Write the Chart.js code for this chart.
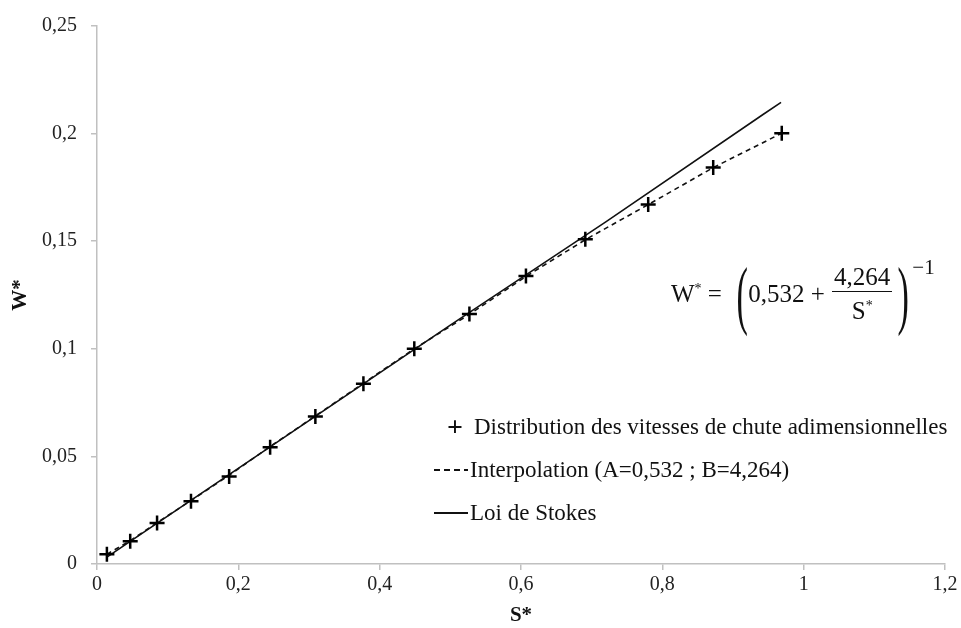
<!DOCTYPE html>
<html>
<head>
<meta charset="utf-8">
<script src="https://cdn.jsdelivr.net/npm/chart.js@4/dist/chart.umd.min.js"></script>
<style>
  body { margin: 0; background: #fff; }
  #wrap { position: relative; width: 961px; height: 628px; font-family: "Liberation Serif", serif; color: #111; }
  #legend { position: absolute; left: 432px; top: 405px; font-size: 23px; }
  #legend .row { display: flex; align-items: center; height: 43px; }
  #legend .sym { width: 38px; display: flex; justify-content: center; align-items: center; }
  .eq { position: absolute; left: 671px; top: 259px; height: 70px; font-size: 25px; display: flex; align-items: center; }
  .frac { display: inline-flex; flex-direction: column; align-items: center; margin: 0 1px; }
  .frac .num { border-bottom: 1.5px solid #111; padding: 0 2px; line-height: 28px; }
  .frac .den { line-height: 28px; }
  .paren { font-size: 76px; line-height: 70px; transform: scaleX(0.45); display: inline-block; width: 16px; text-align: center; }
  sup { font-size: 14px; }
</style>
</head>
<body>
<div id="wrap">
  <canvas id="chart" width="961" height="628"></canvas>
  <div id="legend">
    <div class="row"><span class="sym" style="font-weight:bold;font-size:28px;padding-left:4px">+</span><span>Distribution des vitesses de chute adimensionnelles</span></div>
    <div class="row"><span class="sym"><svg width="34" height="4"><line x1="0" y1="2" x2="34" y2="2" stroke="#111" stroke-width="2" stroke-dasharray="6,4"/></svg></span><span>Interpolation (A=0,532 ; B=4,264)</span></div>
    <div class="row"><span class="sym"><svg width="34" height="4"><line x1="0" y1="2" x2="34" y2="2" stroke="#111" stroke-width="2"/></svg></span><span>Loi de Stokes</span></div>
  </div>
  <div class="eq">
    <span>W<sup>*</sup>&nbsp;=&nbsp;</span><span class="paren" style="margin-left:4px">(</span><span>0,532 +&nbsp;</span><span class="frac"><span class="num">4,264</span><span class="den">S<sup>*</sup></span></span><span class="paren">)</span><span style="align-self:flex-start;font-size:21px;margin-top:-4px;margin-left:3px">−1</span>
  </div>
</div>
<script>
// points mesurés
const pointsS = [0.014, 0.047, 0.085, 0.133, 0.187, 0.245, 0.309, 0.377, 0.449, 0.527, 0.607, 0.691, 0.780, 0.872, 0.969];
const pointsW = [0.0045, 0.0106, 0.0190, 0.0292, 0.0407, 0.0542, 0.0685, 0.0838, 0.1000, 0.1162, 0.1338, 0.1509, 0.1671, 0.1843, 0.2002];

// courbe d'interpolation
const interpS = [0.014, 0.047, 0.085, 0.133, 0.187, 0.245, 0.309, 0.377, 0.449, 0.527, 0.607, 0.691, 0.780, 0.872, 0.969];
const interpW = [0.0045, 0.0108, 0.0192, 0.0295, 0.0412, 0.0546, 0.0688, 0.0840, 0.1000, 0.1160, 0.1336, 0.1507, 0.1670, 0.1842, 0.2002];

// loi de Stokes
const stokesS = [0.014, 0.5, 0.72, 0.943, 0.968];
const stokesW = [0.0032, 0.1110, 0.1590, 0.2090, 0.2145];

const xTicks = [0, 0.2, 0.4, 0.6, 0.8, 1, 1.2];
const yTicks = [0, 0.05, 0.1, 0.15, 0.2, 0.25];

const toXY = (xs, ys) => xs.map((x, i) => ({ x: x, y: ys[i] }));
const comma = v => String(+v.toFixed(2)).replace('.', ',');

const ctx = document.querySelector('#chart').getContext('2d');
const chart = new Chart(ctx, {
    type: 'scatter',
    data: {
        datasets: [{
            label: 'Loi de Stokes',
            data: toXY(stokesS, stokesW),
            showLine: true,
            borderColor: '#111',
            borderWidth: 1.6,
            pointRadius: 0,
            order: 3
        }, {
            label: 'Interpolation (A=0,532 ; B=4,264)',
            data: toXY(interpS, interpW),
            showLine: true,
            borderColor: '#111',
            borderWidth: 1.6,
            borderDash: [5, 4],
            pointRadius: 0,
            order: 2
        }, {
            label: 'Distribution des vitesses de chute adimensionnelles',
            data: toXY(pointsS, pointsW),
            showLine: false,
            pointStyle: 'cross',
            pointRadius: 7.5,
            borderColor: '#000',
            borderWidth: 2.5,
            order: 1
        }]
    },
    options: {
        responsive: false,
        animation: false,
        layout: { padding: { top: 25, right: 16, left: 0, bottom: 0 } },
        scales: {
            x: {
                type: 'linear',
                min: 0,
                max: 1.2,
                afterBuildTicks: s => { s.ticks = xTicks.map(v => ({ value: v })); },
                afterFit: s => { s.height = 64; },
                border: { color: '#c0c0c0', width: 1.5 },
                grid: { drawOnChartArea: false, color: '#c0c0c0', tickLength: 6, lineWidth: 1.5 },
                ticks: {
                    color: '#222',
                    font: { family: 'Liberation Serif', size: 20 },
                    padding: 3,
                    callback: v => comma(v)
                },
                title: {
                    display: true,
                    text: 'S*',
                    color: '#111',
                    font: { family: 'Liberation Serif', size: 21, weight: 'bold' },
                    padding: { top: 0, bottom: 0 }
                }
            },
            y: {
                type: 'linear',
                min: 0,
                max: 0.25,
                afterBuildTicks: s => { s.ticks = yTicks.map(v => ({ value: v })); },
                afterFit: s => { s.width = 97; },
                border: { color: '#c0c0c0', width: 1.5 },
                grid: { drawOnChartArea: false, color: '#c0c0c0', tickLength: 6, lineWidth: 1.5 },
                ticks: {
                    color: '#222',
                    font: { family: 'Liberation Serif', size: 20 },
                    padding: 14,
                    callback: v => comma(v)
                },
                title: {
                    display: true,
                    text: 'W*',
                    color: '#111',
                    font: { family: 'Liberation Serif', size: 21, weight: 'bold' },
                    padding: { top: 8, bottom: 0 }
                }
            }
        },
        plugins: {
            legend: { display: false },
            tooltip: { enabled: false }
        }
    }
});
</script>
</body>
</html>
